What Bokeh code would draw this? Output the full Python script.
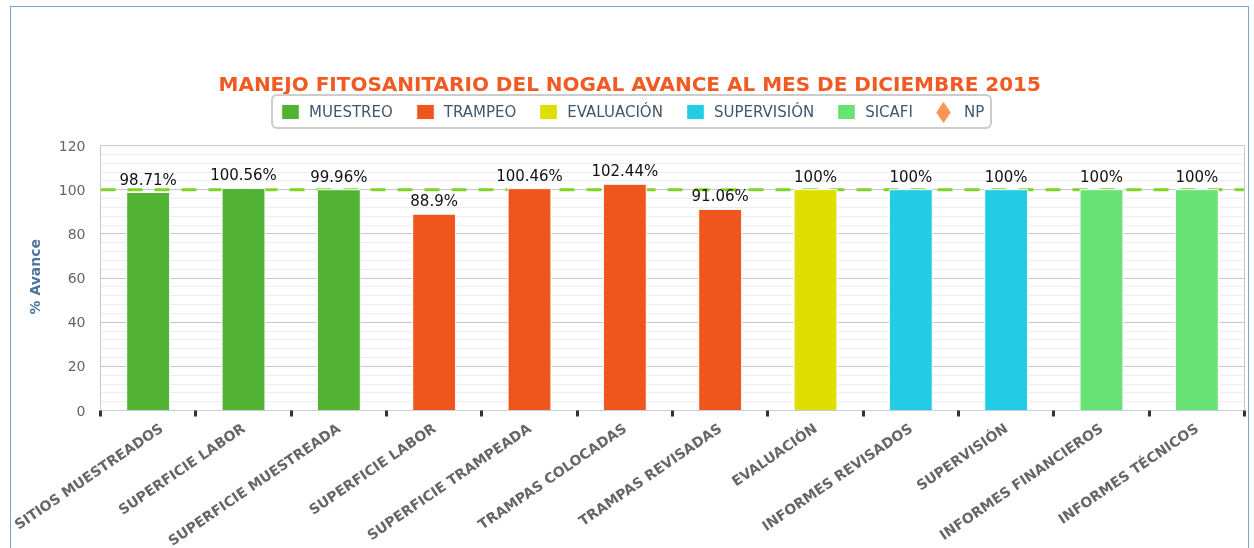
from bokeh.plotting import figure
from bokeh.models import (ColumnDataSource, FixedTicker, Span, Legend, LegendItem,
                          LabelSet, Range1d, LinearAxis, Title)
from bokeh.core.properties import value
from bokeh.embed import file_html
from bokeh.resources import INLINE

# ---------------- data ----------------
categories = ["SITIOS MUESTREADOS", "SUPERFICIE LABOR", "SUPERFICIE MUESTREADA",
              "SUPERFICIE LABOR", "SUPERFICIE TRAMPEADA", "TRAMPAS COLOCADAS",
              "TRAMPAS REVISADAS", "EVALUACIÓN", "INFORMES REVISADOS",
              "SUPERVISIÓN", "INFORMES FINANCIEROS", "INFORMES TÉCNICOS"]
values = [98.71, 100.56, 99.96, 88.9, 100.46, 102.44, 91.06, 100, 100, 100, 100, 100]
groups = ["MUESTREO", "MUESTREO", "MUESTREO",
          "TRAMPEO", "TRAMPEO", "TRAMPEO", "TRAMPEO",
          "EVALUACIÓN", "SUPERVISIÓN", "SUPERVISIÓN", "SICAFI", "SICAFI"]
series_names = ["MUESTREO", "TRAMPEO", "EVALUACIÓN", "SUPERVISIÓN", "SICAFI", "NP"]
series_colors = ["#52B234", "#EE561E", "#DEDF00", "#23CBE4", "#66E374", "#FF9655"]
y_ticks = [0, 20, 40, 60, 80, 100, 120]
y_max = 120
target_value = 100
title_text = "MANEJO FITOSANITARIO DEL NOGAL AVANCE AL MES DE DICIEMBRE 2015"
y_title = "% Avance"

# ---------------- figure ----------------
n = len(categories)
centers = [i + 0.5 for i in range(n)]
bounds = list(range(n + 1))

# frame extends above the value axis so the legend can sit inside it unclipped
p = figure(width=1239, height=551, x_range=Range1d(0, n), y_range=Range1d(0, 144),
           output_backend="svg", toolbar_location=None,
           min_border_left=89, min_border_right=6, min_border_top=85, min_border_bottom=135)
p.styles = {"border": "1px solid #7FA2CC", "position": "fixed",
            "left": "10px", "top": "6px"}
p.background_fill_color = "white"
p.border_fill_color = "white"
p.outline_line_color = None

# title
p.title.text = title_text
p.title.align = "left"
p.title.offset = 118
p.title.text_font = "DejaVu Sans"
p.title.text_font_size = "20px"
p.title.text_font_style = "bold"
p.title.text_color = "#F15A22"
p.title.standoff = -7

# grid
p.xgrid.grid_line_color = None
p.ygrid.grid_line_color = "#C8C8C8"
p.ygrid.minor_grid_line_color = "#EDEDED"

# y axis
p.yaxis.ticker = FixedTicker(ticks=y_ticks, minor_ticks=list(range(0, y_max + 1, 4)))
p.yaxis.bounds = (0, y_max)
p.yaxis.axis_line_color = "#C8C8C8"
p.yaxis.major_tick_line_color = None
p.yaxis.minor_tick_line_color = None
p.yaxis.major_label_text_font = "DejaVu Sans"
p.yaxis.major_label_text_font_size = "14px"
p.yaxis.major_label_text_color = "#666666"
p.yaxis.major_label_standoff = 9

# y axis title, centred on the value axis (0..120) rather than the whole frame
p.add_layout(Title(text=y_title, align="left", offset=96, standoff=25,
                   text_font="DejaVu Sans", text_font_size="14px",
                   text_font_style="bold", text_color="#4D759E"), "left")

# right border of the plot area
rax = LinearAxis(ticker=FixedTicker(ticks=[]), bounds=(0, y_max),
                 axis_line_color="#C8C8C8", major_tick_line_color=None,
                 minor_tick_line_color=None, major_label_text_font_size="0px")
p.add_layout(rax, "right")
# top border of the plot area
p.add_layout(Span(location=y_max, dimension="width", line_color="#C8C8C8", line_width=1))

# x axis
p.xaxis.ticker = FixedTicker(ticks=centers, minor_ticks=bounds)
p.xaxis.major_label_overrides = {c: name for c, name in zip(centers, categories)}
p.xaxis.major_label_orientation = 0.6
p.xaxis.major_tick_line_color = None
p.xaxis.minor_tick_line_color = "#333333"
p.xaxis.minor_tick_line_width = 3
p.xaxis.minor_tick_in = 0
p.xaxis.minor_tick_out = 6
p.xaxis.axis_line_color = "#C0D0E0"
p.xaxis.major_label_text_font = "DejaVu Sans"
p.xaxis.major_label_text_font_size = "14px"
p.xaxis.major_label_text_font_style = "bold"
p.xaxis.major_label_text_color = "#666666"
p.xaxis.major_label_standoff = 10

# target line (behind bars)
p.add_layout(Span(location=target_value, dimension="width", line_color="#7FD32B",
                  line_width=3, line_dash="15 12", level="underlay"))

# bars, one renderer per series
items = []
np_big = None
for name, color in zip(series_names, series_colors):
    idx = [i for i, g in enumerate(groups) if g == name]
    if name == "NP":
        # legend-only series: one point with no value, so nothing is drawn
        src = ColumnDataSource(dict(x=[centers[0]], y=[float("nan")]))
        r = p.scatter("x", "y", source=src, marker="diamond", size=20,
                      fill_color=color, line_color=color, fill_alpha=0, line_alpha=0)
        np_big = p.scatter("x", "y", source=src, marker="diamond", size=20,
                           fill_color=color, line_color=color)
    else:
        src = ColumnDataSource(dict(x=[centers[i] for i in idx],
                                    y=[values[i] for i in idx]))
        r = p.vbar(x="x", top="y", bottom=0, width=0.45, source=src,
                   fill_color=color, line_color="white", line_width=1)
    items.append(LegendItem(label=name, renderers=[r]))

# data labels
lab_src = ColumnDataSource(dict(x=centers, y=values,
                                t=[f"{v:g}%" for v in values]))
p.add_layout(LabelSet(x="x", y="y", text="t", source=lab_src, y_offset=4,
                      text_align="center", text_baseline="bottom",
                      text_font_size=value("15px"), text_color=value("#111111"),
                      text_font=value("DejaVu Sans")))

# legend
legend = Legend(items=items, orientation="horizontal", location=(171, 281),
                label_text_font="DejaVu Sans", label_text_font_size="15px",
                label_text_color="#3E576F", glyph_width=22, glyph_height=19,
                label_standoff=8, spacing=21, padding=6, margin=0,
                border_line_color="#999999", border_line_width=2,
                background_fill_color="white", background_fill_alpha=1)
if "border_radius" in Legend.properties():
    legend.border_radius = 6
p.add_layout(legend, "center")

# larger diamond for the NP legend entry (drawn over the blank glyph slot)
np_legend = Legend(items=[LegendItem(label=" ", renderers=[np_big])],
                   location=(818, 273), glyph_width=50, glyph_height=50,
                   padding=0, margin=0, label_standoff=0, label_text_font_size="1px",
                   border_line_color=None, background_fill_alpha=0)
p.add_layout(np_legend, "center")

open("out.html", "w").write(file_html(p, INLINE))
